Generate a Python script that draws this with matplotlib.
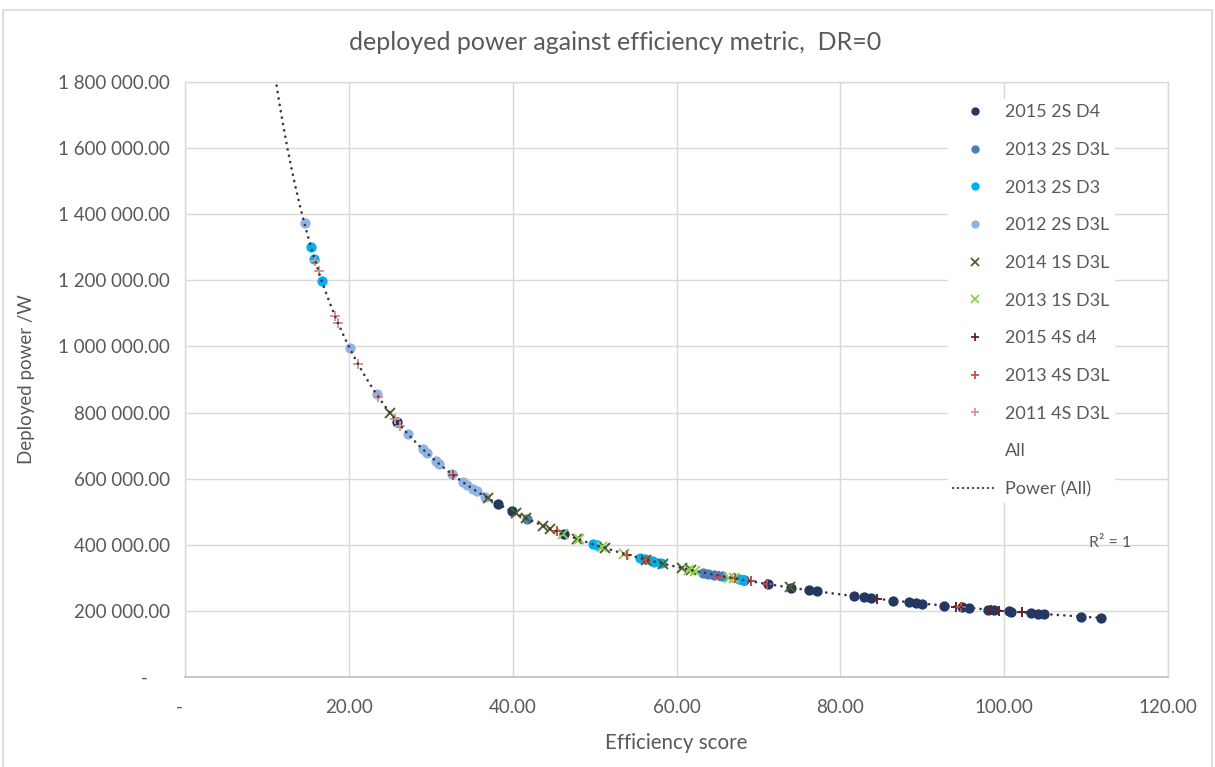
import numpy as np
import matplotlib
matplotlib.use("Agg")
import matplotlib.pyplot as plt
from matplotlib.lines import Line2D
from matplotlib.patches import Rectangle
from matplotlib.ticker import FixedLocator, FuncFormatter

plt.rcParams['font.family'] = ['Lato', 'DejaVu Sans']

# ---- data: efficiency score vs deployed power (W) per product group ----
d4_2015_2s_x = [25.9, 38.2, 39.9, 46.3, 68.3, 71.2, 74.0, 76.2, 77.2, 81.7, 82.9, 83.7, 86.4,
                88.4, 89.2, 90.0, 92.7, 94.9, 95.7, 98.0, 98.8, 100.6, 100.8, 103.3, 104.1,
                104.9, 109.4, 111.8]
d4_2015_2s_y = [772000, 524000, 501000, 432000, 293000, 281000, 270000, 262000, 259000, 245000,
                241000, 239000, 231000, 226000, 224000, 222000, 216000, 211000, 209000, 204000,
                202000, 199000, 198000, 194000, 192000, 191000, 183000, 179000]

d3l_2013_2s_x = [41.8, 57.0, 63.2, 63.8, 64.6, 65.5]
d3l_2013_2s_y = [478000, 351000, 316000, 313000, 310000, 305000]

d3_2013_2s_x = [15.4, 15.8, 16.7, 49.8, 50.3, 55.6, 56.2, 57.3, 58.1, 67.6, 68.1]
d3_2013_2s_y = [1300000, 1265000, 1198000, 402000, 398000, 360000, 356000, 349000, 344000,
                296000, 294000]

d3l_2012_2s_x = [14.6, 20.1, 23.4, 27.2, 29.0, 29.5, 30.6, 31.0, 32.6, 33.9, 34.4, 35.1, 35.6, 36.6]
d3l_2012_2s_y = [1372000, 995000, 855000, 735000, 690000, 678000, 654000, 645000, 613000,
                 590000, 581000, 570000, 562000, 546000]

d3l_2014_1s_x = [25.0, 37.0, 40.4, 41.6, 43.7, 44.6, 47.8, 51.3, 56.3, 58.4, 60.7, 61.8, 73.8]
d3l_2014_1s_y = [800000, 541000, 495000, 481000, 458000, 448000, 418000, 390000, 355000,
                 342000, 329000, 324000, 271000]

d3l_2013_1s_x = [46.2, 48.1, 50.9, 53.6, 61.5, 62.3, 66.4, 67.0]
d3l_2013_1s_y = [433000, 416000, 393000, 373000, 325000, 321000, 301000, 298000]

d4_2015_4s_x = [69.1, 84.5, 94.1, 98.4, 99.4, 102.2]
d4_2015_4s_y = [289000, 237000, 213000, 203000, 201000, 196000]

d3l_2013_4s_x = [32.7, 45.4, 54.0, 56.3, 65.2, 67.1, 69.1, 71.0, 94.7]
d3l_2013_4s_y = [612000, 441000, 370000, 355000, 307000, 298000, 289000, 282000, 211000]

d3l_2011_4s_x = [15.9, 16.3, 18.3, 18.7, 21.1, 23.6, 25.6, 26.3]
d3l_2011_4s_y = [1258000, 1227000, 1093000, 1070000, 948000, 847000, 781000, 760000]

series_labels = ["2015 2S D4", "2013 2S D3L", "2013 2S D3", "2012 2S D3L", "2014 1S D3L",
                 "2013 1S D3L", "2015 4S d4", "2013 4S D3L", "2011 4S D3L"]

x_ticks = [0, 20, 40, 60, 80, 100, 120]
y_ticks = [0, 200000, 400000, 600000, 800000, 1000000, 1200000, 1400000, 1600000, 1800000]

# ---- styling per series ----
styles = [
    dict(marker='o', color='#1F3864'),
    dict(marker='o', color='#4A7EBB'),
    dict(marker='o', color='#00B0F0'),
    dict(marker='o', color='#8EB4E3'),
    dict(marker='x', color='#4F6228'),
    dict(marker='x', color='#92D050'),
    dict(marker='+', color='#632523'),
    dict(marker='+', color='#C0504D'),
    dict(marker='+', color='#DA9694'),
]
series = [
    (d4_2015_2s_x, d4_2015_2s_y), (d3l_2013_2s_x, d3l_2013_2s_y), (d3_2013_2s_x, d3_2013_2s_y),
    (d3l_2012_2s_x, d3l_2012_2s_y), (d3l_2014_1s_x, d3l_2014_1s_y), (d3l_2013_1s_x, d3l_2013_1s_y),
    (d4_2015_4s_x, d4_2015_4s_y), (d3l_2013_4s_x, d3l_2013_4s_y), (d3l_2011_4s_x, d3l_2011_4s_y),
]

fig = plt.figure(figsize=(12.15, 7.67), dpi=100)
ax = fig.add_axes([185 / 1215, 1 - 677 / 767, (1168 - 185) / 1215, (677 - 82) / 767])

text_col = '#595959'
grid_col = '#D9D9D9'
FSP = '\u2007'  # figure space, used to pad the zero labels

handles = []
for (xs, ys), st, lab in zip(series, styles, series_labels):
    if st['marker'] == 'o':
        ax.plot(xs, ys, linestyle='none', marker='o', markersize=6.4,
                markerfacecolor=st['color'], markeredgecolor=st['color'], zorder=3)
        h = Line2D([], [], linestyle='none', marker='o', markersize=5,
                   markerfacecolor=st['color'], markeredgecolor=st['color'])
    else:
        ax.plot(xs, ys, linestyle='none', marker=st['marker'], markersize=7.5,
                markeredgewidth=1.4, color=st['color'], zorder=3)
        h = Line2D([], [], linestyle='none', marker=st['marker'], markersize=6,
                   markeredgewidth=1.3, color=st['color'])
    handles.append(h)

# power trendline fitted over all points
all_x = np.concatenate([np.asarray(s[0], float) for s in series])
all_y = np.concatenate([np.asarray(s[1], float) for s in series])
b, ln_a = np.polyfit(np.log(all_x), np.log(all_y), 1)
tx = np.linspace(10.5, 112.2, 400)
ty = np.exp(ln_a) * tx ** b
trend_col = '#403152'
trend_ls = (0, (0.05, 2.4))
ax.plot(tx, ty, color=trend_col, linewidth=1.9, linestyle=trend_ls,
        dash_capstyle='round', zorder=4)

ax.set_xlim(0, 120)
ax.set_ylim(0, 1800000)
ax.xaxis.set_major_locator(FixedLocator(x_ticks))
ax.yaxis.set_major_locator(FixedLocator(y_ticks))


def fmt_x(v, pos):
    return '-' + FSP if v == 0 else f"{v:.2f}"


def fmt_y(v, pos):
    if v == 0:
        return '-' + FSP * 2
    return f"{v:,.2f}".replace(',', ' ')


ax.xaxis.set_major_formatter(FuncFormatter(fmt_x))
ax.yaxis.set_major_formatter(FuncFormatter(fmt_y))
ax.tick_params(axis='both', length=0, labelsize=13.5, colors=text_col)
ax.tick_params(axis='x', pad=16)
ax.tick_params(axis='y', pad=11)
ax.grid(True, color=grid_col, linewidth=1.0, zorder=0)
ax.set_axisbelow(True)
for side in ['top', 'right', 'left']:
    ax.spines[side].set_color(grid_col)
    ax.spines[side].set_linewidth(1.0)
ax.spines['bottom'].set_color('#BFBFBF')
ax.spines['bottom'].set_linewidth(1.2)

ax.set_xlabel('Efficiency score', fontsize=14.8, color=text_col, labelpad=12)
ax.set_ylabel('Deployed power /W', fontsize=13.5, color=text_col)
ax.yaxis.set_label_coords(-150 / 983, 0.5)
fig.text(615 / 1215, 1 - 42 / 767, 'deployed power against efficiency metric,  DR=0',
         ha='center', va='center', fontsize=18, color=text_col)

# legend entries: series, empty "All", trendline
handles.append(Line2D([], [], linestyle='none', marker=None))
handles.append(Line2D([], [], color=trend_col, linewidth=1.6, linestyle=(0, (0.05, 2.2)),
                      dash_capstyle='round'))
labels = series_labels + ['All', 'Power (All)']
leg = fig.legend(handles, labels, loc='upper left', bbox_to_anchor=(939 / 1215, 1 - 90 / 767),
                 frameon=True, fontsize=13, labelspacing=1.2, handlelength=2.4,
                 handletextpad=0.45, borderpad=0.3)
leg.get_frame().set_facecolor('white')
leg.get_frame().set_edgecolor('none')
leg.get_frame().set_alpha(1.0)
for t in leg.get_texts():
    t.set_color(text_col)

ax.text(1110 / 1215, 1 - 543 / 767, 'R² = 1', transform=fig.transFigure, ha='center',
        va='center', fontsize=11.5, color=text_col)

# chart area border
fig.patches.append(Rectangle((3 / 1215, -0.01), 1209 / 1215, 1 - 10 / 767 + 0.01,
                             transform=fig.transFigure, fill=False, edgecolor=grid_col,
                             linewidth=1.2))

fig.savefig('out.png', dpi=100)
